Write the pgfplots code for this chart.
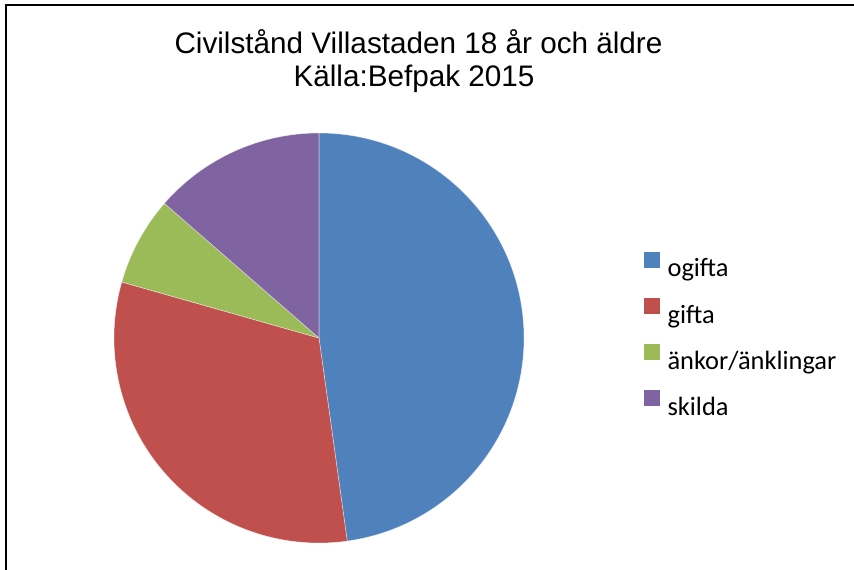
\documentclass[border=0pt]{standalone}
\usepackage{fontspec}
\setmainfont{Liberation Sans}
\newfontfamily\legfont{Carlito}
\usepackage{pgfplots}
\usepackage{pgfplotstable}
\pgfplotsset{compat=1.18}
\definecolor{cBlue}{HTML}{4F81BD}
\definecolor{cRed}{HTML}{C0504D}
\definecolor{cGreen}{HTML}{9BBB59}
\definecolor{cPurple}{HTML}{8064A2}

\pgfplotstableread{
label value
ogifta 47.8
gifta 31.6
ankor 7.0
skilda 13.6
}\piedata

\begin{document}
\begin{tikzpicture}
\pgfplotstablegetelem{0}{value}\of\piedata \let\vA\pgfplotsretval
\pgfplotstablegetelem{1}{value}\of\piedata \let\vB\pgfplotsretval
\pgfplotstablegetelem{2}{value}\of\piedata \let\vC\pgfplotsretval
\pgfplotstablegetelem{3}{value}\of\piedata \let\vD\pgfplotsretval
\pgfmathsetmacro{\tot}{\vA+\vB+\vC+\vD}
\pgfmathsetmacro{\eA}{90-360*(\vA/\tot)}
\pgfmathsetmacro{\eB}{\eA-360*(\vB/\tot)}
\pgfmathsetmacro{\eC}{\eB-360*(\vC/\tot)}
\pgfmathsetmacro{\eD}{\eC-360*(\vD/\tot)}
\begin{axis}[
  at={(0,0)}, anchor=south west,
  width=854bp, height=570bp, scale only axis,
  xmin=0, xmax=854, ymin=0, ymax=570,
  hide axis, clip=false,
  legend cell align=left,
  legend style={draw=none, fill=none, at={(axis cs:644,318.3)}, anchor=north west,
    font=\legfont\fontsize{26.5}{30}\selectfont, row sep=17.8bp, column sep=6bp, inner sep=0pt},
]
\def\R{205bp}
\fill[cBlue, draw=white, draw opacity=0.5, line width=0.6pt] (axis cs:319,232) -- ++(90:\R) arc[start angle=90, end angle=\eA, radius=\R] -- cycle;
\fill[cRed, draw=white, draw opacity=0.5, line width=0.6pt] (axis cs:319,232) -- ++(\eA:\R) arc[start angle=\eA, end angle=\eB, radius=\R] -- cycle;
\fill[cGreen, draw=white, draw opacity=0.5, line width=0.6pt] (axis cs:319,232) -- ++(\eB:\R) arc[start angle=\eB, end angle=\eC, radius=\R] -- cycle;
\fill[cPurple, draw=white, draw opacity=0.5, line width=0.6pt] (axis cs:319,232) -- ++(\eC:\R) arc[start angle=\eC, end angle=\eD, radius=\R] -- cycle;

\addlegendimage{legend image code/.code={\fill[cBlue] (0bp,0bp) rectangle (15bp,15bp);}}
\addlegendentry{\strut ogifta}
\addlegendimage{legend image code/.code={\fill[cRed] (0bp,0bp) rectangle (15bp,15bp);}}
\addlegendentry{\strut gifta}
\addlegendimage{legend image code/.code={\fill[cGreen] (0bp,0bp) rectangle (15bp,15bp);}}
\addlegendentry{\strut änkor/änklingar}
\addlegendimage{legend image code/.code={\fill[cPurple] (0bp,0bp) rectangle (15bp,15bp);}}
\addlegendentry{\strut skilda}

\node[anchor=base, font=\fontsize{29.8}{33}\selectfont, inner sep=0pt] at (axis cs:418.5,516.7) {Civilstånd Villastaden 18 år och äldre};
\node[anchor=base, font=\fontsize{29.8}{33}\selectfont, inner sep=0pt] at (axis cs:414,483.3) {Källa:Befpak 2015};
\end{axis}
\pgfresetboundingbox
\path[use as bounding box] (0,0) rectangle (854bp,570bp);
\fill (5.3bp,0bp) rectangle (7.3bp,566bp);
\fill (5.3bp,564bp) rectangle (854bp,566bp);
\end{tikzpicture}
\end{document}
